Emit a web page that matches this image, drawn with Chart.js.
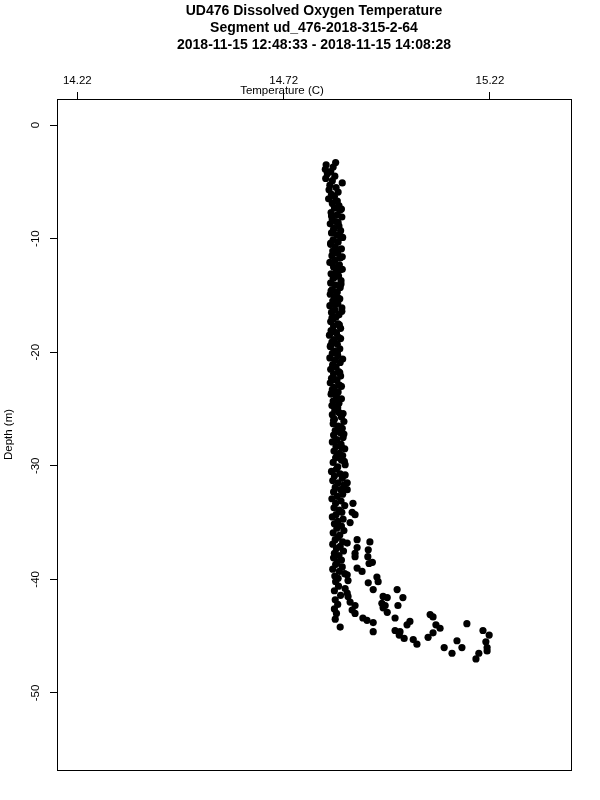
<!DOCTYPE html>
<html>
<head>
<meta charset="utf-8">
<script src="https://cdn.jsdelivr.net/npm/chart.js@4"></script>
<style>
  html, body { margin: 0; padding: 0; background: #fff; }
</style>
</head>
<body>
<canvas id="doChart" width="600" height="800"></canvas>
<script>
const titleLines = [
  "UD476 Dissolved Oxygen Temperature",
  "Segment ud_476-2018-315-2-64",
  "2018-11-15 12:48:33 - 2018-11-15 14:08:28"
];
const xTitle = "Temperature (C)";
const yTitle = "Depth (m)";
const tempTicks = [14.22, 14.72, 15.22];
const depthTicks = [0, -10, -20, -30, -40, -50];

// main near-vertical column of the profile
const profileDepth = [
  -3.3, -3.5, -3.7, -3.9, -4.1, -4.3, -4.5, -4.7, -4.9, -5.1,
  -5.3, -5.5, -5.7, -5.9, -6.1, -6.3, -6.5, -6.7, -6.9, -7.1,
  -7.3, -7.5, -7.7, -7.9, -8.1, -8.3, -8.5, -8.7, -8.9, -9.1,
  -9.3, -9.5, -9.7, -9.9, -10.1, -10.3, -10.5, -10.7, -10.9, -11.1,
  -11.3, -11.5, -11.7, -11.9, -12.1, -12.3, -12.5, -12.7, -12.9, -13.1,
  -13.3, -13.5, -13.7, -13.9, -14.1, -14.3, -14.5, -14.7, -14.9, -15.1,
  -15.3, -15.5, -15.7, -15.9, -16.1, -16.3, -16.5, -16.7, -16.9, -17.1,
  -17.3, -17.5, -17.7, -17.9, -18.1, -18.3, -18.5, -18.7, -18.9, -19.1,
  -19.3, -19.5, -19.7, -19.9, -20.1, -20.3, -20.5, -20.7, -20.9, -21.1,
  -21.3, -21.5, -21.7, -21.9, -22.1, -22.3, -22.5, -22.7, -22.9, -23.1,
  -23.3, -23.5, -23.7, -23.9, -24.1, -24.3, -24.5, -24.7, -24.9, -25.1,
  -25.3, -25.5, -25.7, -25.9, -26.1, -26.3, -26.5, -26.7, -26.9, -27.1,
  -27.3, -27.5, -27.7, -27.9, -28.1, -28.3, -28.5, -28.7, -28.9, -29.1,
  -29.3, -29.5, -29.7, -29.9, -30.1,
  -30.3, -30.5, -30.7, -30.9, -31.1, -31.3, -31.5, -31.7, -31.9, -32.1,
  -32.3, -32.5, -32.7, -32.9, -33.1, -33.3, -33.5, -33.7, -33.9, -34.1,
  -34.3, -34.5, -34.7, -34.9, -35.1, -35.3, -35.5, -35.7, -35.9, -36.1,
  -36.3, -36.5, -36.7, -36.9, -37.1, -37.3, -37.5, -37.7, -37.9, -38.1,
  -38.3, -38.5, -38.7, -38.9, -39.1, -39.3, -39.5, -39.7, -39.9,
  -40.2, -40.6, -41.0, -41.4, -41.8, -42.2, -42.6, -43.0, -43.5, -44.2,
  -7.4, -8.0, -8.6, -9.2, -9.8, -10.4, -11.0, -11.6, -12.2, -12.8,
  -13.4, -14.0, -14.6, -15.2, -15.8, -16.4, -17.0, -17.6, -18.2, -18.8,
  -19.4, -20.0, -20.6, -21.2, -21.8, -22.4, -23.0, -23.6, -24.2, -24.8,
  -25.4, -26.0, -26.6, -27.2, -27.8, -28.4, -29.0, -29.6
];
const profileTemp = [
  14.846, 14.823, 14.840, 14.821, 14.834, 14.826, 14.844, 14.822, 14.838, 14.862,
  14.832, 14.847, 14.830, 14.852, 14.836, 14.843, 14.829, 14.850, 14.838, 14.854,
  14.843, 14.856, 14.835, 14.850, 14.861, 14.838, 14.847, 14.833, 14.854, 14.842,
  14.858, 14.836, 14.849, 14.863, 14.840, 14.852, 14.834, 14.845, 14.860, 14.839,
  14.851, 14.837, 14.857, 14.844, 14.832, 14.855, 14.841, 14.862, 14.848, 14.835,
  14.853, 14.840, 14.859, 14.834, 14.846, 14.857, 14.838, 14.850, 14.833, 14.843,
  14.856, 14.839, 14.851, 14.832, 14.861, 14.844, 14.836, 14.854, 14.847, 14.840,
  14.834, 14.852, 14.841, 14.858, 14.835, 14.848, 14.831, 14.853, 14.842, 14.837,
  14.850, 14.833, 14.856, 14.843, 14.838, 14.851, 14.832, 14.845, 14.857, 14.839,
  14.847, 14.834, 14.853, 14.841, 14.858, 14.836, 14.849, 14.833, 14.855, 14.842,
  14.838, 14.852, 14.835, 14.848, 14.860, 14.840, 14.854, 14.837, 14.851, 14.844,
  14.854, 14.838, 14.860, 14.843, 14.866, 14.840, 14.852, 14.862, 14.845, 14.857,
  14.841, 14.864, 14.849, 14.838, 14.859, 14.847, 14.868, 14.842, 14.855, 14.863,
  14.846, 14.860, 14.840, 14.869, 14.851,
  14.848, 14.836, 14.857, 14.843, 14.862, 14.839, 14.852, 14.866, 14.845, 14.858,
  14.841, 14.863, 14.850, 14.837, 14.859, 14.846, 14.868, 14.842, 14.855, 14.861,
  14.847, 14.838, 14.864, 14.851, 14.843, 14.860, 14.849, 14.866, 14.840, 14.856,
  14.852, 14.845, 14.863, 14.839, 14.857, 14.848, 14.865, 14.843, 14.854, 14.841,
  14.860, 14.850, 14.846, 14.862, 14.839, 14.855, 14.868, 14.844, 14.852,
  14.846, 14.853, 14.843, 14.858, 14.845, 14.851, 14.843, 14.848, 14.845, 14.857,
  14.860, 14.836, 14.852, 14.841, 14.857, 14.834, 14.849, 14.862, 14.838, 14.854,
  14.843, 14.859, 14.835, 14.851, 14.846, 14.861, 14.837, 14.855, 14.842, 14.858,
  14.834, 14.850, 14.863, 14.839, 14.856, 14.844, 14.860, 14.836, 14.853, 14.847,
  14.864, 14.841, 14.858, 14.866, 14.845, 14.861, 14.850, 14.867
];

// warmer scattered readings near the bottom
const bottomDepth = [
  -30.8, -31.5, -32.1, -33.3, -34.1, -34.3, -35.0, -36.5, -37.2, -37.7,
  -36.7, -37.4, -36.8, -38.6, -38.5, -38.0, -38.0, -39.0, -39.3, -39.8,
  -40.2, -40.3, -40.9, -39.6, -40.1, -40.8, -41.2, -41.5, -42.0, -42.3,
  -42.7, -43.0, -43.4, -43.6, -43.8, -44.6, -41.5, -41.6, -42.1, -42.3,
  -42.5, -40.9, -41.6, -42.3, -43.4, -44.5, -44.6, -45.2, -44.0, -43.7,
  -45.3, -45.7, -43.1, -43.3, -44.0, -44.3, -44.7, -45.1, -43.9, -44.5,
  -44.9, -45.5, -46.0, -46.3, -45.4, -46.0, -46.0, -46.5, -46.5, -47.0,
  -42.9, -44.9
];
const bottomTemp = [
  14.869, 14.874, 14.874, 14.888, 14.886, 14.893, 14.881, 14.898, 14.898, 14.893,
  14.929, 14.925, 14.874, 14.927, 14.935, 14.893, 14.924, 14.898, 14.910, 14.946,
  14.949, 14.925, 14.937, 14.874, 14.876, 14.869, 14.874, 14.876, 14.881, 14.893,
  14.886, 14.893, 14.912, 14.922, 14.937, 14.937, 14.961, 14.971, 14.958, 14.966,
  14.961, 14.995, 15.009, 14.997, 14.990, 14.990, 15.002, 15.012, 15.019, 15.026,
  15.034, 15.043, 15.075, 15.082, 15.089, 15.099, 15.082, 15.070, 15.164, 15.203,
  15.218, 15.210, 15.213, 15.213, 15.140, 15.152, 15.109, 15.128, 15.193, 15.186,
  14.971, 15.000
];

const FONT = '"Liberation Sans", Arial, Helvetica, sans-serif';

function toPoints(xs, ys) {
  return xs.map((t, i) => ({ x: t, y: ys[i] }));
}

const dotStyle = {
  backgroundColor: '#000',
  borderWidth: 0,
  pointRadius: 3.6,
  pointHoverRadius: 3.6
};

// box, rotated depth labels, titles
const framePlugin = {
  id: 'framePlugin',
  afterDraw(chart) {
    const ctx = chart.ctx;
    const a = chart.chartArea;
    const yScale = chart.scales.y;
    ctx.save();
    ctx.strokeStyle = '#000';
    ctx.lineWidth = 1;
    ctx.strokeRect(Math.round(a.left) + 0.5, Math.round(a.top) + 0.5,
      Math.round(a.right - a.left), Math.round(a.bottom - a.top));

    ctx.fillStyle = '#000';
    ctx.textAlign = 'center';
    ctx.textBaseline = 'middle';

    ctx.font = 'bold 14px ' + FONT;
    const cx = (a.left + a.right) / 2;
    titleLines.forEach((s, i) => ctx.fillText(s, cx, 11 + i * 17));

    ctx.font = '11.5px ' + FONT;
    ctx.fillText(xTitle, 282, 91);

    depthTicks.forEach(v => {
      ctx.save();
      ctx.translate(36, yScale.getPixelForValue(v));
      ctx.rotate(-Math.PI / 2);
      ctx.fillText(String(v), 0, 0);
      ctx.restore();
    });

    ctx.save();
    ctx.translate(9, (a.top + a.bottom) / 2);
    ctx.rotate(-Math.PI / 2);
    ctx.fillText(yTitle, 0, 0);
    ctx.restore();

    ctx.restore();
  }
};

new Chart(document.getElementById('doChart'), {
  type: 'scatter',
  data: {
    datasets: [
      Object.assign({ label: 'profile', data: toPoints(profileTemp, profileDepth) }, dotStyle),
      Object.assign({ label: 'bottom', data: toPoints(bottomTemp, bottomDepth) }, dotStyle)
    ]
  },
  options: {
    responsive: false,
    animation: false,
    layout: { padding: { left: 0, right: 29, top: 0, bottom: 30 } },
    plugins: {
      legend: { display: false },
      tooltip: { enabled: false }
    },
    scales: {
      x: {
        type: 'linear',
        position: 'top',
        min: 14.1708,
        max: 15.4163,
        afterBuildTicks: s => { s.ticks = tempTicks.map(v => ({ value: v })); },
        afterFit: s => { s.height = 99; },
        grid: { drawOnChartArea: false, drawTicks: true, tickLength: 7, color: '#000', lineWidth: 1 },
        border: { display: false },
        ticks: {
          color: '#000',
          font: { family: FONT, size: 11.5 },
          padding: 4,
          autoSkip: false,
          maxRotation: 0,
          callback: v => Number(v).toFixed(2)
        }
      },
      y: {
        type: 'linear',
        min: -56.78,
        max: 2.29,
        afterBuildTicks: s => { s.ticks = depthTicks.map(v => ({ value: v })); },
        afterFit: s => { s.width = 57; },
        grid: { drawOnChartArea: false, drawTicks: true, tickLength: 7, color: '#000', lineWidth: 1 },
        border: { display: false },
        ticks: { display: false }
      }
    }
  },
  plugins: [framePlugin]
});
</script>
</body>
</html>
